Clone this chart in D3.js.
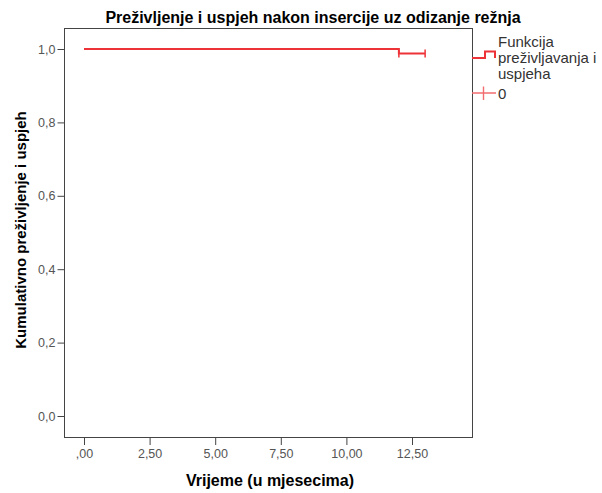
<!DOCTYPE html>
<html>
<head>
<meta charset="utf-8">
<script src="https://cdn.jsdelivr.net/npm/d3@7"></script>
<style>
  body { margin: 0; background: #fff; }
  text { font-family: "Liberation Sans", Arial, sans-serif; }
</style>
</head>
<body>
<div id="chart"></div>
<script>
// survival steps: time (months) and cumulative survival
const stepTimes = [0, 12, 12, 13];
const stepValues = [1.0, 1.0, 0.988, 0.988];
// censored observations
const censorTimes = [12, 13];
const censorValues = [0.988, 0.988];
const xTicks = [0, 2.5, 5, 7.5, 10, 12.5];
const yTicks = [0, 0.2, 0.4, 0.6, 0.8, 1.0];
const legendLines = ['Funkcija', 'preživljavanja i', 'uspjeha'];

const W = 602, H = 493;
const frame = {'left':64,'right':472,'top':28,'bottom':437};
const red = '#ee3338';

const svg = d3.select('#chart').append('svg')
  .attr('width', W).attr('height', H);

const x = d3.scaleLinear().domain([0, 12.5]).range([84, 412]);
const y = d3.scaleLinear().domain([0, 1]).range([416, 49]);

// frame
svg.append('rect')
  .attr('x', frame.left + 0.5).attr('y', frame.top + 0.5)
  .attr('width', frame.right - frame.left).attr('height', frame.bottom - frame.top)
  .attr('fill', 'none').attr('stroke', '#444').attr('stroke-width', 1);

// y axis
const yAx = svg.append('g')
  .attr('transform', `translate(${frame.left + 0.5},0)`)
  .call(d3.axisLeft(y).tickValues(yTicks).tickSize(7).tickPadding(2)
    .tickFormat(d => d3.format('.1f')(d).replace('.', ',')));
yAx.select('.domain').remove();
yAx.selectAll('line').attr('stroke', '#444');
yAx.selectAll('text').attr('fill', '#555').style('font-size', '12.5px');

// x axis (ticks below frame)
const xAx = svg.append('g')
  .attr('transform', `translate(0,${frame.bottom + 1})`)
  .call(d3.axisBottom(x).tickValues(xTicks).tickSize(7).tickPadding(4)
    .tickFormat(d => d3.format('.2f')(d).replace('.', ',').replace(/^0,/, ',')));
xAx.select('.domain').remove();
xAx.selectAll('line').attr('stroke', '#444');
xAx.selectAll('text').attr('fill', '#555').style('font-size', '12.5px');

// survival curve
const pts = stepTimes.map((t, i) => [x(t), y(stepValues[i])]);
svg.append('path')
  .attr('d', d3.line()(pts))
  .attr('fill', 'none').attr('stroke', red).attr('stroke-width', 2);

// censor marks
svg.selectAll('.censor')
  .data(censorTimes)
  .enter().append('line')
  .attr('class', 'censor')
  .attr('x1', d => x(d)).attr('x2', d => x(d))
  .attr('y1', (d, i) => y(censorValues[i]) - 4)
  .attr('y2', (d, i) => y(censorValues[i]) + 4)
  .attr('stroke', red).attr('stroke-width', 1.5);

// title and axis labels
svg.append('text')
  .attr('x', 313).attr('y', 22.5)
  .attr('text-anchor', 'middle')
  .style('font-size', '16px').style('font-weight', 'bold')
  .text('Preživljenje i uspjeh nakon insercije uz odizanje režnja');

svg.append('text')
  .attr('x', 270).attr('y', 486)
  .attr('text-anchor', 'middle')
  .style('font-size', '16px').style('font-weight', 'bold')
  .text('Vrijeme (u mjesecima)');

svg.append('text')
  .attr('transform', 'translate(25.5,230) rotate(-90)')
  .attr('text-anchor', 'middle')
  .style('font-size', '15px').style('font-weight', 'bold')
  .text('Kumulativno preživljenje i uspjeh');

// legend
const leg = svg.append('g');
leg.append('path')
  .attr('d', 'M472,58 H485 V51.5 H495 V58')
  .attr('fill', 'none').attr('stroke', red).attr('stroke-width', 2);
leg.append('path')
  .attr('d', 'M472,93 H496 M483.5,86.5 V100')
  .style('fill', 'none').style('stroke', '#f26d70').style('stroke-width', '1.4px');
leg.selectAll('.lt').data(legendLines).enter().append('text')
  .attr('class', 'lt')
  .attr('x', 498).attr('y', (d, i) => 47 + i * 15.75)
  .attr('fill', '#333').style('font-size', '15px')
  .text(d => d);
leg.append('text').attr('x', 498).attr('y', 98.5)
  .attr('fill', '#333').style('font-size', '15px').text('0');
</script>
</body>
</html>
